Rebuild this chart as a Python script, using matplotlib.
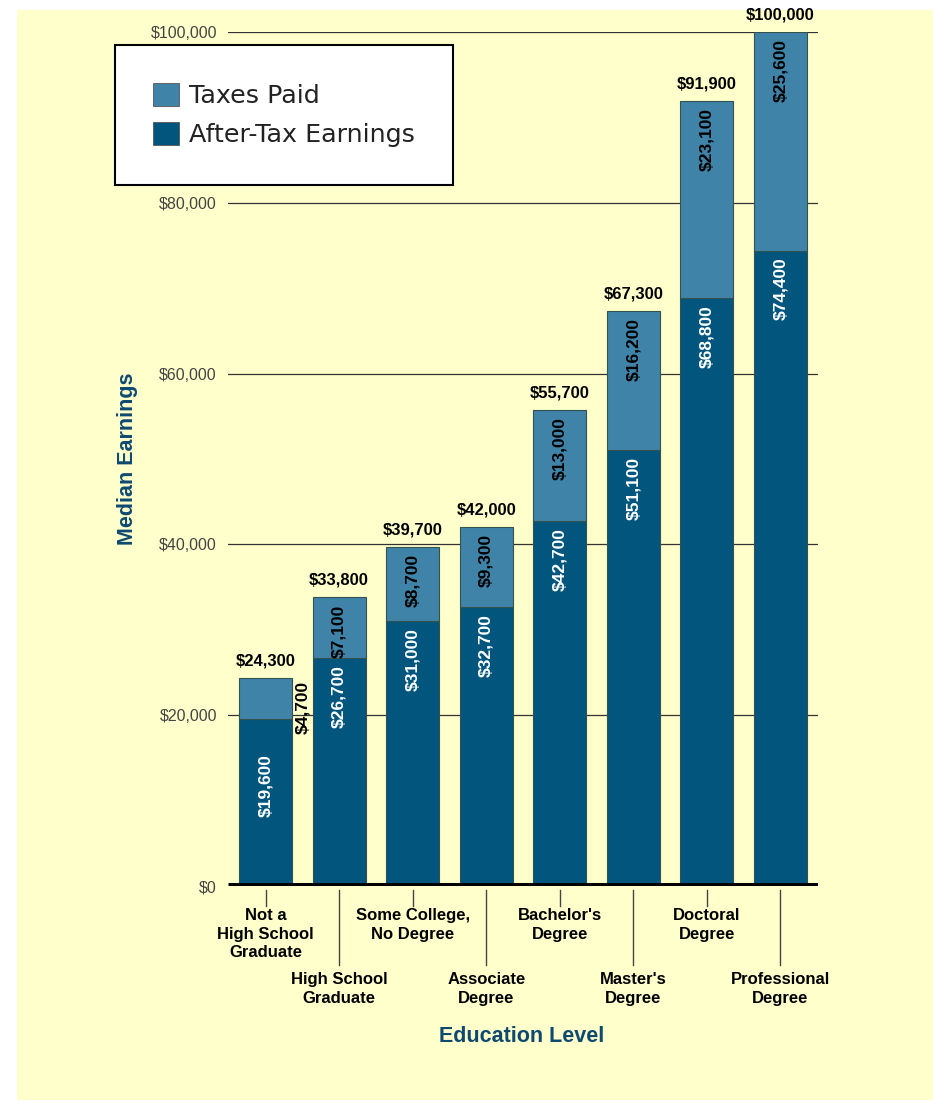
import matplotlib.pyplot as plt
import numpy as np
from matplotlib.patches import Rectangle, Patch
from matplotlib.transforms import offset_copy

# data ------------------------------------------------------------------------
levels = ["Not a\nHigh School\nGraduate", "High School\nGraduate", "Some College,\nNo Degree",
          "Associate\nDegree", "Bachelor's\nDegree", "Master's\nDegree",
          "Doctoral\nDegree", "Professional\nDegree"]
after_tax = [19600, 26700, 31000, 32700, 42700, 51100, 68800, 74400]
taxes = [4700, 7100, 8700, 9300, 13000, 16200, 23100, 25600]
totals = [24300, 33800, 39700, 42000, 55700, 67300, 91900, 100000]
y_ticks = [0, 20000, 40000, 60000, 80000, 100000]

# style -----------------------------------------------------------------------
c_tax = "#4083a8"
c_after = "#02567e"
c_label = "#0e4a70"
c_bg = "#ffffcc"
val_font = "Liberation Sans"
cat_font = ["Liberation Sans Narrow", "Liberation Sans"]

fig = plt.figure(figsize=(9.33, 11.02), dpi=100)
fig.patches.append(Rectangle((17 / 933, 2 / 1102), 1 - 17 / 933, 1 - 12 / 1102,
                             transform=fig.transFigure, facecolor=c_bg, edgecolor="none", zorder=-10))

ax = fig.add_axes([228 / 933, 1 - 886 / 1102, 590 / 933, 854 / 1102])
ax.set_facecolor("none")
for s in ax.spines.values():
    s.set_visible(False)

x = np.arange(len(levels))
w = 0.72
ax.bar(x, after_tax, w, color=c_after, edgecolor="#33524f", linewidth=0.8, zorder=3)
ax.bar(x, taxes, w, bottom=after_tax, color=c_tax, edgecolor="#33524f", linewidth=0.8, zorder=3)

ax.set_xlim(-0.51, len(levels) - 0.49)
ax.set_ylim(0, 100000)

# grid lines and baseline
for t in y_ticks[1:]:
    ax.axhline(t, color="#333333", lw=0.9, zorder=1)
ax.axhline(0, color="black", lw=5, zorder=4, solid_capstyle="butt")

ax.set_yticks(y_ticks)
ax.set_yticklabels([f"${v:,.0f}" for v in y_ticks], fontsize=11.5, color="#444444",
                   fontfamily=val_font)
ax.tick_params(axis="y", length=0, pad=8)
ax.set_xticks([])

# value labels
fs_val = 12.5
down = offset_copy(ax.transData, fig=fig, y=-7, units="dots")
for i in range(len(levels)):
    top_after = after_tax[i]
    top_all = after_tax[i] + taxes[i]
    if i == 0:
        ax.text(i, top_after, f"${after_tax[i]:,}", rotation=90, ha="center", va="top",
                color="white", fontsize=fs_val, fontweight="bold", fontfamily=val_font,
                transform=offset_copy(ax.transData, fig=fig, y=-36, units="dots"), zorder=5)
        ax.text(i + w / 2, top_all, f"${taxes[i]:,}", rotation=90, ha="left", va="top",
                color="black", fontsize=fs_val, fontweight="bold", fontfamily=val_font,
                transform=offset_copy(ax.transData, fig=fig, x=3, y=-2, units="dots"), zorder=5)
    else:
        ax.text(i, top_after, f"${after_tax[i]:,}", rotation=90, ha="center", va="top",
                color="white", fontsize=fs_val, fontweight="bold", fontfamily=val_font,
                transform=down, zorder=5)
        ax.text(i, top_all, f"${taxes[i]:,}", rotation=90, ha="center", va="top",
                color="black", fontsize=fs_val, fontweight="bold", fontfamily=val_font,
                transform=down, zorder=5)
    ax.annotate(f"${totals[i]:,}", (i, totals[i]), xytext=(0, 7), textcoords="offset points",
                ha="center", va="bottom", fontsize=12, fontweight="bold",
                fontfamily=val_font, annotation_clip=False)

# category ticks and labels, alternating rows
for i, lab in enumerate(levels):
    long = i % 2 == 1
    y_end = -9300 if long else -2300
    ax.plot([i, i], [-500, y_end], color="#444444", lw=1, clip_on=False, zorder=2)
    ax.annotate(lab, (i, -2600 if not long else -10100), xytext=(0, 0), textcoords="offset points",
                ha="center", va="top", fontsize=12, fontweight="bold", family=cat_font,
                linespacing=1.3, annotation_clip=False)

ax.set_ylabel("Median Earnings", fontsize=15.5, fontweight="bold", color=c_label,
              fontfamily=val_font, labelpad=9)
fig.text(522 / 933, 1 - 1036 / 1102, "Education Level", ha="center", va="center",
         fontsize=15.5, fontweight="bold", color=c_label, family=cat_font)

# legend
handles = [Patch(facecolor=c_tax, edgecolor="#555555", lw=0.6, label="Taxes Paid"),
           Patch(facecolor=c_after, edgecolor="#555555", lw=0.6, label="After-Tax Earnings")]
leg = fig.legend(handles=handles, loc="upper left", bbox_to_anchor=(115 / 933, 1 - 45 / 1102),
                 fontsize=18.3, frameon=True, fancybox=False, edgecolor="black",
                 facecolor="white", framealpha=1,
                 handlelength=1.0, handleheight=1.0, handletextpad=0.4, labelspacing=0.55,
                 borderpad=1.5, borderaxespad=0)
leg.get_frame().set_linewidth(1.5)
for t in leg.get_texts():
    t.set_color("#222222")

fig.savefig("out.png", dpi=100)
